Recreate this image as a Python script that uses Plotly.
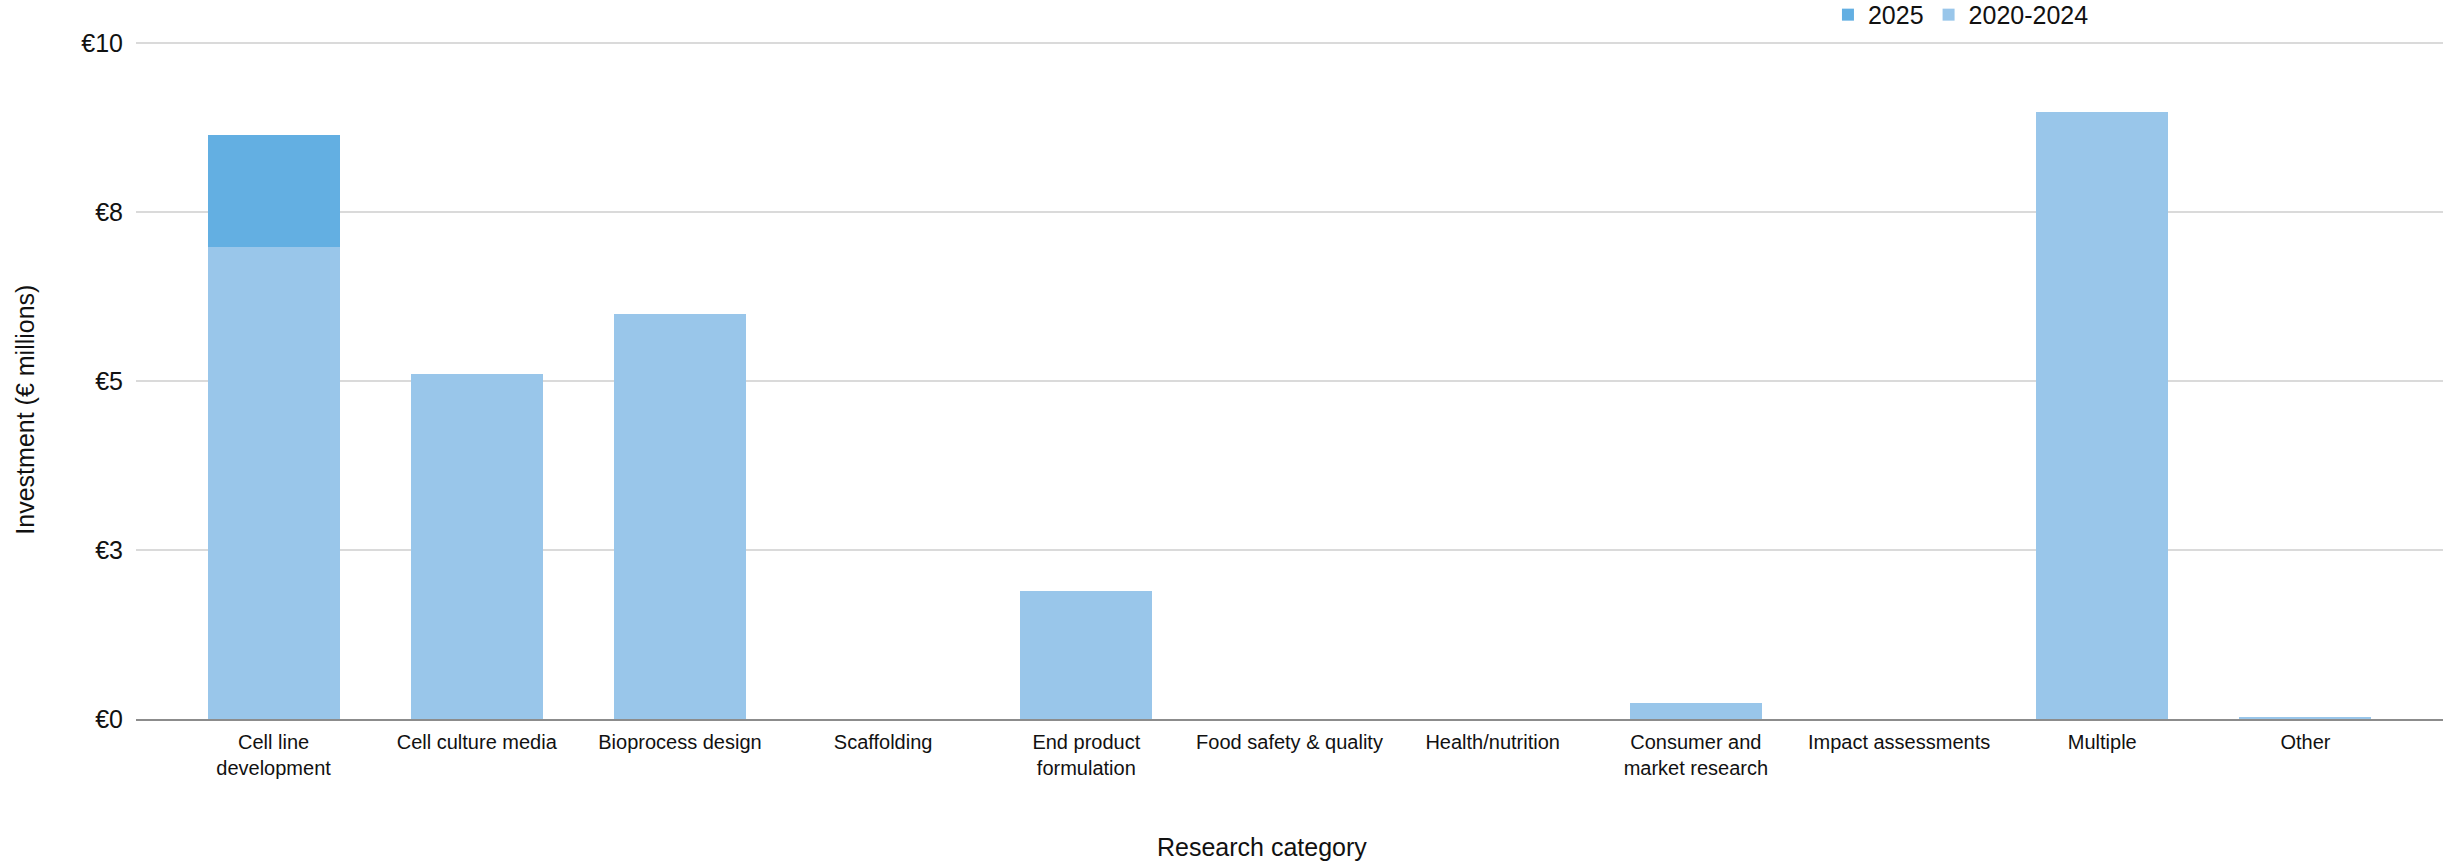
import plotly.graph_objects as go

categories = ["Cell line<br>development", "Cell culture media", "Bioprocess design", "Scaffolding",
              "End product<br>formulation", "Food safety & quality", "Health/nutrition",
              "Consumer and<br>market research", "Impact assessments", "Multiple", "Other"]
values_2020_2024 = [6.98, 5.11, 6.0, 0, 1.90, 0, 0, 0.24, 0, 8.99, 0.03]
values_2025 = [1.66, 0, 0, 0, 0, 0, 0, 0, 0, 0, 0]
y_tickvals = [0, 2.5, 5, 7.5, 10]
y_ticktext = ["€0", "€3", "€5", "€8", "€10"]

FONT = "Liberation Sans, Arial, sans-serif"

fig = go.Figure()
fig.add_trace(go.Bar(x=categories, y=values_2020_2024, name="2020-2024",
                     marker=dict(color="#99C6EA", line=dict(width=0))))
fig.add_trace(go.Bar(x=categories, y=values_2025, name="2025",
                     marker=dict(color="#63AFE2", line=dict(width=0))))

fig.update_layout(
    width=2450, height=861,
    barmode="stack", bargap=0.35,
    plot_bgcolor="white", paper_bgcolor="white",
    margin=dict(l=136, r=7, t=42, b=142, autoexpand=False),
    font=dict(family=FONT, color="#111111", size=25),
    showlegend=True,
    legend=dict(orientation="h", traceorder="reversed", x=0.7334, xanchor="left",
                y=1.074, yanchor="top", font=dict(size=25), bgcolor="rgba(0,0,0,0)"),
    xaxis=dict(range=[-0.677, 10.677], showline=True, linecolor="#8C8C8C", linewidth=2,
               tickfont=dict(size=20), showgrid=False, ticks="", fixedrange=True,
               ticklabelstandoff=4),
    yaxis=dict(range=[0, 10.02], tickvals=y_tickvals, ticktext=y_ticktext,
               showgrid=True, gridcolor="#DADADA", gridwidth=2, zeroline=False,
               tickfont=dict(size=25), ticks="", ticklabelstandoff=12),
    annotations=[
        dict(text="Research category", xref="paper", yref="paper", x=0.488, y=-0.189,
             xanchor="center", yanchor="middle", showarrow=False, font=dict(size=25)),
        dict(text="Investment (€ millions)", xref="paper", yref="paper", x=-0.0481, y=0.457,
             xanchor="center", yanchor="middle", showarrow=False, textangle=-90,
             font=dict(size=25)),
    ],
)

fig.write_html("out.html")
